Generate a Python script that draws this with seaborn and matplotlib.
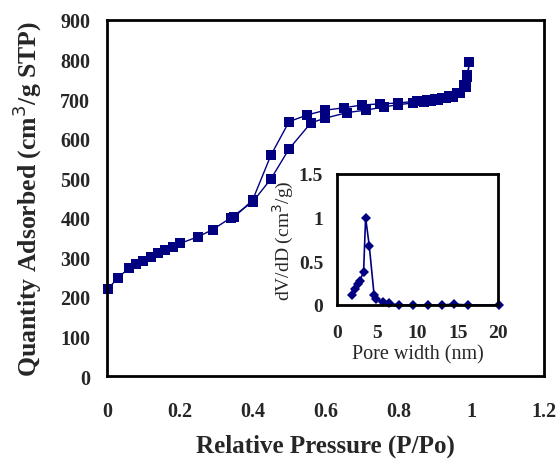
import numpy as np
import pandas as pd
import seaborn as sns
import matplotlib
matplotlib.use("Agg")
import matplotlib.pyplot as plt
import matplotlib.ticker

sns.set_style("white")
plt.rcParams["font.family"] = ["Liberation Serif", "DejaVu Serif"]

NAVY = "#000080"

# adsorption branch (lower)
ads_p = [0.003, 0.03, 0.06, 0.08, 0.10, 0.12, 0.14, 0.16, 0.18, 0.20, 0.25, 0.29,
         0.34, 0.40, 0.45, 0.50, 0.56, 0.60, 0.66, 0.71, 0.76, 0.80, 0.84, 0.87,
         0.89, 0.91, 0.93, 0.95, 0.97, 0.985, 0.99, 0.995]
ads_v = [220, 249, 272, 282, 292, 300, 310, 318, 327, 335, 352, 370,
         400, 440, 498, 574, 640, 652, 666, 672, 680, 686, 690, 693,
         696, 698, 702, 706, 716, 730, 755, 793]
# desorption branch (upper)
des_p = [0.995, 0.99, 0.98, 0.96, 0.94, 0.92, 0.90, 0.88, 0.85, 0.80, 0.75, 0.70,
         0.65, 0.60, 0.55, 0.50, 0.45, 0.40, 0.35]
des_v = [793, 760, 735, 715, 708, 703, 700, 698, 695, 690, 688, 685,
         678, 672, 660, 643, 558, 445, 402]

# pore size distribution (inset)
pore_w = [1.8, 2.2, 2.6, 2.8, 3.3, 3.55, 4.0, 4.6, 4.9, 5.7, 6.5, 7.7,
          9.5, 11.3, 13.0, 14.5, 16.3, 20.1]
dvdd = [0.11, 0.18, 0.24, 0.27, 0.38, 1.0, 0.68, 0.12, 0.07, 0.03, 0.02, 0.0,
        0.0, 0.0, 0.0, 0.01, 0.0, 0.0]

fig = plt.figure(figsize=(5.58, 4.6), dpi=100)
ax = fig.add_axes([0.1918, 0.1804, 0.783, 0.774])

for xs, ys in [(ads_p, ads_v), (des_p, des_v)]:
    sns.lineplot(x=xs, y=ys, sort=False, ax=ax, color=NAVY, lw=1,
                 marker="s", markersize=7.5, markeredgewidth=0,
                 markerfacecolor=NAVY, estimator=None, clip_on=False)

ax.set_xlim(0, 1.2)
ax.set_ylim(0, 900)
ax.xaxis.set_major_locator(matplotlib.ticker.MultipleLocator(0.2))
ax.yaxis.set_major_locator(matplotlib.ticker.MultipleLocator(100))
ax.xaxis.set_major_formatter(matplotlib.ticker.FormatStrFormatter("%g"))
ax.tick_params(direction="in", length=4, width=1.2, labelsize=14.5)
ax.tick_params(axis="x", pad=18)
ax.tick_params(axis="y", pad=12)
for lab in ax.get_xticklabels() + ax.get_yticklabels():
    lab.set_fontweight("bold")
for s in ax.spines.values():
    s.set_linewidth(2)
    s.set_color("black")
ax.set_xlabel("Relative Pressure (P/Po)", fontsize=18, fontweight="bold", labelpad=9)
ax.set_ylabel("Quantity Adsorbed (cm$^3$/g STP)", fontsize=18.5, fontweight="bold", labelpad=12)

# inset
axi = fig.add_axes([0.604, 0.3348, 0.2885, 0.2848])
sns.lineplot(x=pore_w, y=dvdd, sort=False, ax=axi, color=NAVY, lw=1.2,
             marker="D", markersize=5, markeredgewidth=0,
             markerfacecolor=NAVY, estimator=None, clip_on=False)
axi.set_xlim(0, 20)
axi.set_ylim(0, 1.5)
axi.xaxis.set_major_locator(matplotlib.ticker.MultipleLocator(5))
axi.yaxis.set_major_locator(matplotlib.ticker.MultipleLocator(0.5))
axi.yaxis.set_major_formatter(matplotlib.ticker.FormatStrFormatter("%g"))
axi.tick_params(axis="y", direction="in", length=3, labelsize=14, pad=10)
axi.tick_params(axis="x", length=0, labelsize=14, pad=14)
for lab in axi.get_xticklabels() + axi.get_yticklabels():
    lab.set_fontweight("bold")
for s in axi.spines.values():
    s.set_linewidth(2)
    s.set_color("black")
axi.set_xlabel("Pore width (nm)", fontsize=14.5, labelpad=2)
axi.set_ylabel("dV/dD (cm$^3$/g)", fontsize=14, labelpad=2)

fig.savefig("out.png", dpi=100)
